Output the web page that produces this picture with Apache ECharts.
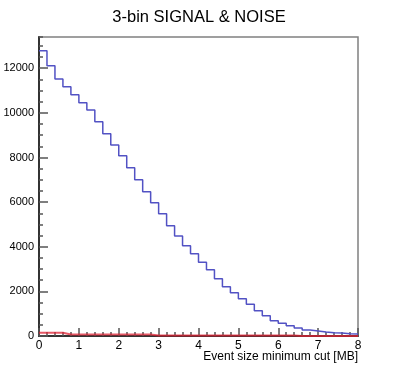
<!DOCTYPE html>
<html><head><meta charset="utf-8">
<script src="https://cdn.jsdelivr.net/npm/echarts@6/dist/echarts.min.js"></script>
<style>html,body{margin:0;padding:0;background:#fff}#c{width:398px;height:375px}</style>
</head><body><div id="c"></div>
<script>
// Histogram bin low edges (MB), 40 bins of 0.2 MB from 0 to 8
const binLowEdges = [0.0,0.2,0.4,0.6,0.8,1.0,1.2,1.4,1.6,1.8,
                     2.0,2.2,2.4,2.6,2.8,3.0,3.2,3.4,3.6,3.8,
                     4.0,4.2,4.4,4.6,4.8,5.0,5.2,5.4,5.6,5.8,
                     6.0,6.2,6.4,6.6,6.8,7.0,7.2,7.4,7.6,7.8];
const histUpperEdge = 8;
// Signal (blue) bin contents
const signalCounts = [12780,12110,11520,11170,10810,10450,10130,9600,9065,8565,
                      8075,7540,7005,6465,5975,5480,4945,4480,4045,3690,
                      3300,2970,2570,2210,1940,1670,1420,1135,910,685,
                      570,460,360,270,225,180,150,135,105,90];
// Noise (red) bin contents
const noiseCounts = [150,150,150,65,65,65,65,65,65,65,
                     65,65,65,65,25,25,25,25,25,25,
                     25,25,25,25,25,25,25,25,25,25,
                     25,25,0,0,0,0,0,0,0,0];
const xRange = [0, 8];
const yRange = [0, 13400];
const titleText = '3-bin SIGNAL & NOISE';
const xTitle = 'Event size minimum cut [MB]';

function stepData(vals) {
  const d = binLowEdges.map((x, i) => [x, vals[i]]);
  d.push([histUpperEdge, vals[vals.length - 1]]);
  return d;
}

const font = "'Liberation Sans', Arial, Helvetica, sans-serif";
const chart = echarts.init(document.getElementById('c'), null, {renderer: 'canvas'});
chart.setOption({
  animation: false,
  backgroundColor: '#fff',
  title: {
    text: titleText, left: 'center', top: 4,
    textStyle: {fontFamily: font, fontSize: 16.5, fontWeight: 'normal', color: '#000'}
  },
  grid: {left: 39, right: 40, top: 37, bottom: 39, show: true, borderColor: '#808080', borderWidth: 1.5, backgroundColor: 'transparent'},
  xAxis: [{
    type: 'value', min: xRange[0], max: xRange[1], interval: 1, position: 'bottom',
    axisLine: {show: true, lineStyle: {color: '#333', width: 2}},
    axisTick: {show: true, inside: true, length: 8, lineStyle: {color: '#555', width: 1.5}},
    axisLabel: {fontFamily: font, fontSize: 12, color: '#000', margin: 4},
    splitLine: {show: false}
  }, {
    type: 'value', min: xRange[0], max: xRange[1], interval: 0.2, position: 'bottom',
    axisLine: {show: false},
    axisTick: {show: true, inside: true, length: 4, lineStyle: {color: '#555', width: 1.5}},
    axisLabel: {show: false}, splitLine: {show: false}
  }],
  yAxis: [{
    type: 'value', min: yRange[0], max: yRange[1], interval: 2000, position: 'left',
    axisLine: {show: true, lineStyle: {color: '#333', width: 2}},
    axisTick: {show: true, inside: true, length: 9, lineStyle: {color: '#555', width: 1.5}},
    axisLabel: {fontFamily: font, fontSize: 11, color: '#000', margin: 5, showMaxLabel: false,
      formatter: v => (v % 2000 === 0 ? String(v) : '')},
    splitLine: {show: false}
  }, {
    type: 'value', min: yRange[0], max: yRange[1], interval: 500, position: 'left',
    axisLine: {show: false},
    axisTick: {show: true, inside: true, length: 4, lineStyle: {color: '#555', width: 1.5}},
    axisLabel: {show: false}, splitLine: {show: false}
  }],
  graphic: [{
    type: 'text', right: 40, top: 351,
    style: {text: xTitle, font: '12px ' + font, fill: '#000'}
  }],
  series: [{
    name: 'signal', type: 'line', step: 'end', xAxisIndex: 0, yAxisIndex: 0,
    data: stepData(signalCounts), showSymbol: false, clip: false,
    lineStyle: {color: '#5252c4', width: 1.5}, z: 3
  }, {
    name: 'noise', type: 'line', step: 'end', xAxisIndex: 0, yAxisIndex: 0,
    data: stepData(noiseCounts), showSymbol: false, clip: false,
    lineStyle: {color: '#dd2233', width: 2, opacity: 0.75}, z: 4
  }]
});
</script></body></html>
